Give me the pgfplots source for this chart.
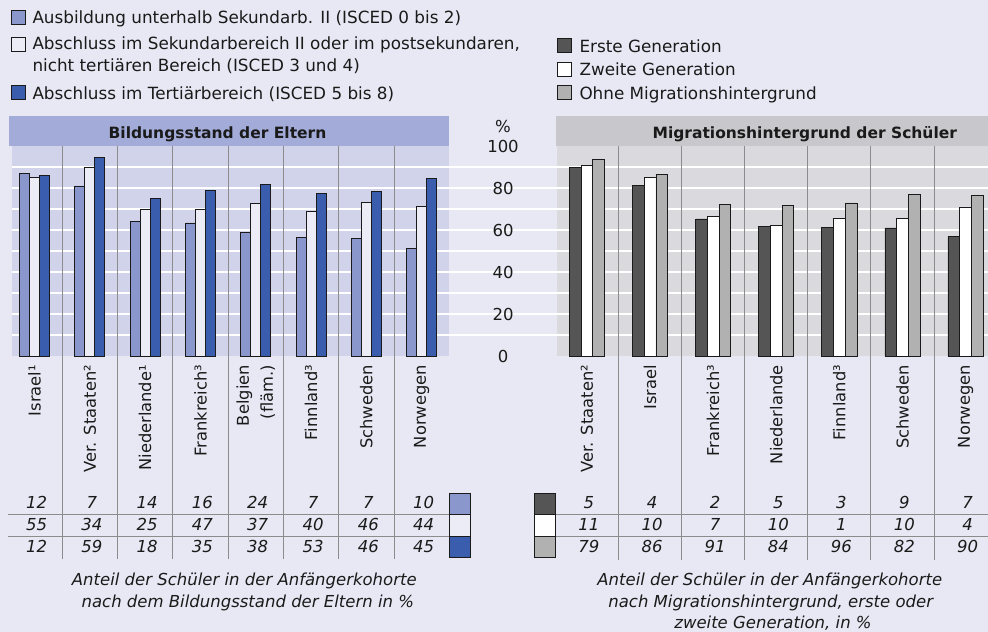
\documentclass[border=0pt]{standalone}
\usepackage{pgfplots}
\pgfplotsset{compat=1.18}
\usepackage{pgfplotstable}
\usepackage{fontspec}
\setmainfont{DejaVu Sans}
\definecolor{pagebg}{HTML}{E8E8F4}
\definecolor{lpanel}{HTML}{D1D3EA}
\definecolor{lband}{HTML}{A3ACD9}
\definecolor{rpanel}{HTML}{D9D9DE}
\definecolor{rband}{HTML}{C8C8CC}
\definecolor{lA}{HTML}{8A97CC}
\definecolor{lB}{HTML}{ECECF6}
\definecolor{lC}{HTML}{3A5DAD}
\definecolor{rA}{HTML}{555555}
\definecolor{rB}{HTML}{FFFFFF}
\definecolor{rC}{HTML}{B1B1B1}
\definecolor{sep}{HTML}{8C8C8C}
\definecolor{txt}{HTML}{1A1A1A}
\newcommand\f{\fontsize{16.5bp}{20bp}\selectfont}
\newcommand\fl{\fontsize{16.8bp}{20bp}\selectfont}
\newcommand\fc{\fontsize{16.3bp}{20bp}\selectfont}
\newcommand\ft{\fontsize{15.5bp}{18bp}\selectfont\bfseries}

\pgfplotstableread{
x a b c
0 87.3 85.4 86.2
1 81.2 89.9 94.8
2 64.5 69.9 75.4
3 63.6 69.9 79.1
4 59.0 72.8 81.8
5 56.8 69.0 77.8
6 56.3 73.5 78.6
7 51.4 71.6 84.6
}\lefttab

\pgfplotstableread{
x a b c
0 90.2 90.8 94.0
1 81.3 85.3 86.9
2 65.5 66.9 72.6
3 62.0 62.3 72.1
4 61.4 65.6 73.1
5 61.2 65.6 77.0
6 57.2 71.2 76.6
}\righttab

\newcommand\tn[3]{\node[anchor=base, font=\itshape\f, xshift=2bp, inner sep=0pt] at (axis cs:#1,#2) {#3};}

\begin{document}
\begin{tikzpicture}[text=txt]
\path[use as bounding box, fill=pagebg] (0bp,0bp) rectangle (988bp,632bp);
% panel backgrounds and title bands
\fill[lpanel] (11.7bp,275.5bp) rectangle (449.3bp,485.5bp);
\fill[lband] (9bp,485.5bp) rectangle (449.3bp,516bp);
\fill[rpanel] (557.3bp,275.5bp) rectangle (988bp,485.5bp);
\fill[rband] (555.7bp,485.5bp) rectangle (988bp,516bp);
\node[anchor=base, font=\ft, inner sep=0pt] at (217.5bp,493.7bp) {Bildungsstand der Eltern};
\node[anchor=base, font=\ft, inner sep=0pt] at (804.8bp,493.7bp) {Migrationshintergrund der Schüler};

% legends
\filldraw[fill=lA, draw=txt, line width=0.7bp] (11bp,608bp) rectangle (25bp,622bp);
\filldraw[fill=lB, draw=txt, line width=0.7bp] (11bp,581bp) rectangle (25bp,595bp);
\filldraw[fill=lC, draw=txt, line width=0.7bp] (11bp,532.7bp) rectangle (25bp,546.7bp);
\node[anchor=base west, font=\fl, inner sep=0pt] at (32.3bp,608bp) {Ausbildung unterhalb Sekundarb. II (ISCED 0 bis 2)};
\node[anchor=base west, font=\fl, inner sep=0pt] at (32.3bp,582bp) {Abschluss im Sekundarbereich II oder im postsekundaren,};
\node[anchor=base west, font=\fl, inner sep=0pt] at (32.3bp,560.5bp) {nicht tertiären Bereich (ISCED 3 und 4)};
\node[anchor=base west, font=\fl, inner sep=0pt] at (32.3bp,532.7bp) {Abschluss im Tertiärbereich (ISCED 5 bis 8)};

\filldraw[fill=rA, draw=txt, line width=0.7bp] (557bp,579.3bp) rectangle (571.5bp,593.8bp);
\filldraw[fill=rB, draw=txt, line width=0.7bp] (557bp,555.5bp) rectangle (571.5bp,570bp);
\filldraw[fill=rC, draw=txt, line width=0.7bp] (557bp,532.5bp) rectangle (571.5bp,547bp);
\node[anchor=base west, font=\fl, inner sep=0pt] at (579.3bp,579.3bp) {Erste Generation};
\node[anchor=base west, font=\fl, inner sep=0pt] at (579.3bp,556bp) {Zweite Generation};
\node[anchor=base west, font=\fl, inner sep=0pt] at (579.3bp,532.7bp) {Ohne Migrationshintergrund};

\node[font=\f] at (503bp,505.3bp) {\%};

% grid lines across the whole width
\begin{axis}[at={(11.7bp,275.5bp)}, anchor=south west, scale only axis,
  width=976.3bp, height=210bp, xmin=0, xmax=1, ymin=0, ymax=100,
  axis line style={draw=none}, xtick=\empty, ytick={10,20,...,90},
  yticklabels={}, ymajorgrids, grid style={white, line width=2bp},
  major tick length=0pt]
\end{axis}

% left panel
\begin{axis}[at={(11.7bp,275.5bp)}, anchor=south west, scale only axis,
  width=437.6bp, height=210bp, xmin=-0.413, xmax=7.5, ymin=0, ymax=100,
  axis line style={draw=none}, xtick=\empty, ytick=\empty, clip=false,
  ybar=0pt, bar width=10bp,
  every axis plot/.append style={draw=txt, line width=0.7bp}]
\addplot[fill=lA] table[x=x,y=a]{\lefttab};
\addplot[fill=lB] table[x=x,y=b]{\lefttab};
\addplot[fill=lC] table[x=x,y=c]{\lefttab};
\pgfplotsinvokeforeach{0.5,1.5,2.5,3.5,4.5,5.5,6.5}{
  \draw[sep, line width=0.9bp] (axis cs:#1,100) -- (axis cs:#1,-96.3);}
\draw[sep, line width=0.9bp] (axis cs:-0.48,-75.14) -- (axis cs:7.5,-75.14);
\draw[sep, line width=0.9bp] (axis cs:-0.48,-85.48) -- (axis cs:7.5,-85.48);
\node[rotate=90, anchor=east, inner sep=0pt, font=\fc] at (axis cs:0,-4) {Israel¹};
\node[rotate=90, anchor=east, inner sep=0pt, font=\fc] at (axis cs:1,-4) {Ver. Staaten²};
\node[rotate=90, anchor=east, inner sep=0pt, font=\fc] at (axis cs:2,-4) {Niederlande¹};
\node[rotate=90, anchor=east, inner sep=0pt, font=\fc] at (axis cs:3,-4) {Frankreich³};
\node[rotate=90, anchor=east, inner sep=0pt, font=\fc, align=right] at (axis cs:4,-4) {Belgien\\[4bp](fläm.)};
\node[rotate=90, anchor=east, inner sep=0pt, font=\fc] at (axis cs:5,-4) {Finnland³};
\node[rotate=90, anchor=east, inner sep=0pt, font=\fc] at (axis cs:6,-4) {Schweden};
\node[rotate=90, anchor=east, inner sep=0pt, font=\fc] at (axis cs:7,-4) {Norwegen};
\tn{0}{-72.6}{12}\tn{1}{-72.6}{7}\tn{2}{-72.6}{14}\tn{3}{-72.6}{16}
\tn{4}{-72.6}{24}\tn{5}{-72.6}{7}\tn{6}{-72.6}{7}\tn{7}{-72.6}{10}
\tn{0}{-82.95}{55}\tn{1}{-82.95}{34}\tn{2}{-82.95}{25}\tn{3}{-82.95}{47}
\tn{4}{-82.95}{37}\tn{5}{-82.95}{40}\tn{6}{-82.95}{46}\tn{7}{-82.95}{44}
\tn{0}{-93.4}{12}\tn{1}{-93.4}{59}\tn{2}{-93.4}{18}\tn{3}{-93.4}{35}
\tn{4}{-93.4}{38}\tn{5}{-93.4}{53}\tn{6}{-93.4}{46}\tn{7}{-93.4}{45}
\end{axis}

% right panel
\begin{axis}[at={(557.3bp,275.5bp)}, anchor=south west, scale only axis,
  width=430.7bp, height=210bp, xmin=-0.47, xmax=6.356, ymin=0, ymax=100,
  axis line style={draw=none}, xtick=\empty, ytick={0,20,...,100},
  tick style={draw=none}, major tick length=0pt,
  yticklabel style={anchor=center, xshift=-54.3bp, font=\f, text=txt},
  /pgf/number format/assume math mode=true, clip=false,
  ybar=0pt, bar width=11.7bp,
  every axis plot/.append style={draw=txt, line width=0.7bp}]
\addplot[fill=rA] table[x=x,y=a]{\righttab};
\addplot[fill=rB] table[x=x,y=b]{\righttab};
\addplot[fill=rC] table[x=x,y=c]{\righttab};
\pgfplotsinvokeforeach{0.5,1.5,2.5,3.5,4.5,5.5}{
  \draw[sep, line width=0.9bp] (axis cs:#1,100) -- (axis cs:#1,-96.9);}
\draw[sep, line width=0.9bp] (axis cs:-0.495,-75.14) -- (axis cs:6.356,-75.14);
\draw[sep, line width=0.9bp] (axis cs:-0.495,-85.48) -- (axis cs:6.356,-85.48);
\node[rotate=90, anchor=east, inner sep=0pt, font=\fc] at (axis cs:0,-4) {Ver. Staaten²};
\node[rotate=90, anchor=east, inner sep=0pt, font=\fc] at (axis cs:1,-4) {Israel};
\node[rotate=90, anchor=east, inner sep=0pt, font=\fc] at (axis cs:2,-4) {Frankreich³};
\node[rotate=90, anchor=east, inner sep=0pt, font=\fc] at (axis cs:3,-4) {Niederlande};
\node[rotate=90, anchor=east, inner sep=0pt, font=\fc] at (axis cs:4,-4) {Finnland³};
\node[rotate=90, anchor=east, inner sep=0pt, font=\fc] at (axis cs:5,-4) {Schweden};
\node[rotate=90, anchor=east, inner sep=0pt, font=\fc] at (axis cs:6,-4) {Norwegen};
\tn{0}{-72.6}{5}\tn{1}{-72.6}{4}\tn{2}{-72.6}{2}\tn{3}{-72.6}{5}
\tn{4}{-72.6}{3}\tn{5}{-72.6}{9}\tn{6}{-72.6}{7}
\tn{0}{-82.95}{11}\tn{1}{-82.95}{10}\tn{2}{-82.95}{7}\tn{3}{-82.95}{10}
\tn{4}{-82.95}{1}\tn{5}{-82.95}{10}\tn{6}{-82.95}{4}
\tn{0}{-93.4}{79}\tn{1}{-93.4}{86}\tn{2}{-93.4}{91}\tn{3}{-93.4}{84}
\tn{4}{-93.4}{96}\tn{5}{-93.4}{82}\tn{6}{-93.4}{90}
\end{axis}

% colour keys of the tables
\filldraw[fill=lA, draw=txt, line width=0.8bp] (449.3bp,117.5bp) rectangle (470.7bp,138.7bp);
\filldraw[fill=lB, draw=txt, line width=0.8bp] (449.3bp,96bp) rectangle (470.7bp,117.5bp);
\filldraw[fill=lC, draw=txt, line width=0.8bp] (449.3bp,74.7bp) rectangle (470.7bp,96bp);
\filldraw[fill=rA, draw=txt, line width=0.8bp] (534bp,117.5bp) rectangle (555.7bp,138.7bp);
\filldraw[fill=rB, draw=txt, line width=0.8bp] (534bp,96bp) rectangle (555.7bp,117.5bp);
\filldraw[fill=rC, draw=txt, line width=0.8bp] (534bp,74.7bp) rectangle (555.7bp,96bp);

% captions
\node[anchor=base, font=\itshape\f, inner sep=0pt] at (244.3bp,46.3bp) {Anteil der Schüler in der Anfängerkohorte};
\node[anchor=base, font=\itshape\f, inner sep=0pt] at (247.8bp,24.7bp) {nach dem Bildungsstand der Eltern in \%};
\node[anchor=base, font=\itshape\f, inner sep=0pt] at (769.8bp,46.3bp) {Anteil der Schüler in der Anfängerkohorte};
\node[anchor=base, font=\itshape\f, inner sep=0pt] at (770.7bp,24.7bp) {nach Migrationshintergrund, erste oder};
\node[anchor=base, font=\itshape\f, inner sep=0pt] at (773bp,3.3bp) {zweite Generation, in \%};
\end{tikzpicture}
\end{document}
